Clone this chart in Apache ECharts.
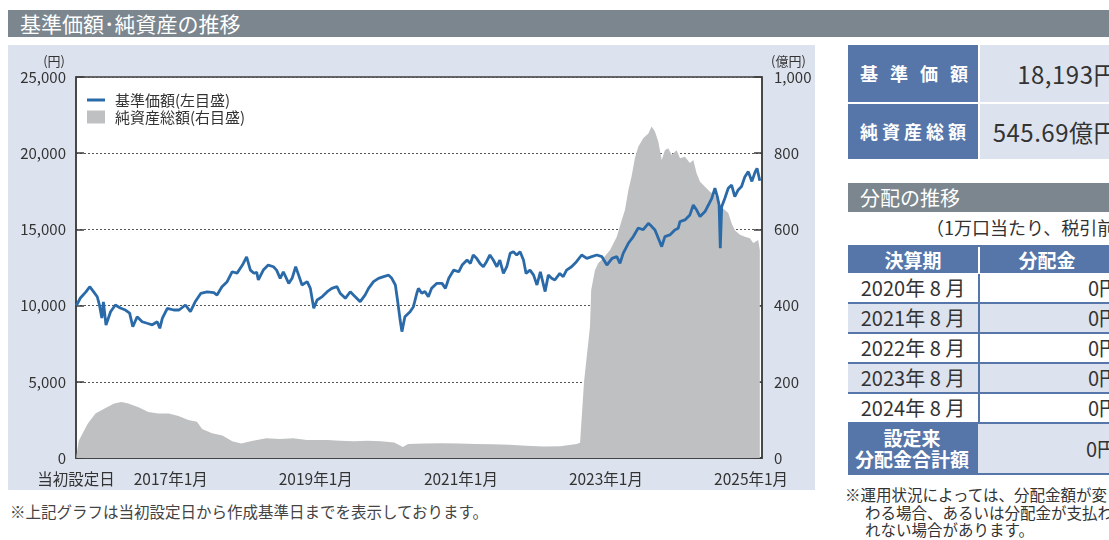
<!DOCTYPE html>
<html><head><meta charset="utf-8">
<script src="https://cdn.jsdelivr.net/npm/echarts@6/dist/echarts.min.js"></script>
<style>
html,body{margin:0;padding:0;background:#fff;width:1109px;height:540px;overflow:hidden;font-family:"Noto Sans CJK JP",sans-serif;color:#333;}
.abs{position:absolute;white-space:nowrap;}
.bar{background:#7b868e;color:#fff;font-size:20px;}
.blue{background:#5676a9;color:#fff;}
.light{background:#dde3ee;}
</style></head>
<body>
<div class="abs bar" style="left:8px;top:10px;width:1101px;height:27px;line-height:27px;padding-left:12px;box-sizing:border-box;font-size:21px;">基準価額･純資産の推移</div>
<div id="chart" class="abs" style="left:8px;top:45px;width:807px;height:445px;background:#dde3ee;"></div>
<div class="abs" style="left:10px;top:500px;font-size:15.5px;color:#444;">※上記グラフは当初設定日から作成基準日までを表示しております。</div>

<div class="abs blue" style="left:848px;top:45px;width:130px;height:57px;line-height:57px;text-align:center;font-size:18px;font-weight:bold;letter-spacing:12px;text-indent:12px;">基準価額</div>
<div class="abs light" style="left:980px;top:45px;width:150px;height:57px;line-height:57px;font-size:24px;letter-spacing:0.5px;text-align:right;padding-right:12px;box-sizing:border-box;">18,193円</div>
<div class="abs blue" style="left:848px;top:104px;width:130px;height:55px;line-height:55px;text-align:center;font-size:18px;font-weight:bold;letter-spacing:4px;text-indent:4px;">純資産総額</div>
<div class="abs light" style="left:980px;top:104px;width:150px;height:55px;line-height:55px;font-size:24px;letter-spacing:0.5px;text-align:right;padding-right:12px;box-sizing:border-box;">545.69億円</div>

<div class="abs bar" style="left:848px;top:183px;width:270px;height:29px;line-height:29px;padding-left:12px;box-sizing:border-box;">分配の推移</div>
<div class="abs" style="left:926px;top:216px;font-size:18px;line-height:22px;">（1万口当たり、税引前）</div>

<div id="dist" class="abs" style="left:848px;top:245px;width:280px;"></div>

<div class="abs" style="left:845px;top:486px;font-size:15.5px;line-height:17.5px;">※運用状況によっては、分配金額が変<br><span style="padding-left:20px">わる場合、あるいは分配金が支払わ</span><br><span style="padding-left:20px">れない場合があります。</span></div>

<script>
// ---- data ----
const navDates = ['2015-09-14','2015-10-04','2015-11-01','2015-11-20','2015-12-10','2015-12-28','2016-01-08','2016-01-20','2016-01-28','2016-02-10','2016-03-04','2016-03-28','2016-04-22','2016-05-18','2016-06-08','2016-06-24','2016-07-16','2016-08-10','2016-09-04','2016-09-30','2016-10-25','2016-11-07','2016-11-20','2016-12-15','2017-01-16','2017-02-12','2017-03-16','2017-04-10','2017-05-04','2017-06-01','2017-07-03','2017-08-06','2017-08-22','2017-09-16','2017-10-12','2017-11-06','2017-12-01','2017-12-28','2018-01-18','2018-02-06','2018-02-24','2018-03-10','2018-03-18','2018-04-12','2018-05-07','2018-06-02','2018-06-18','2018-07-06','2018-07-22','2018-08-18','2018-09-04','2018-09-22','2018-10-07','2018-10-24','2018-11-19','2018-12-05','2018-12-22','2019-01-08','2019-02-03','2019-02-28','2019-03-23','2019-04-18','2019-05-04','2019-05-30','2019-06-24','2019-07-10','2019-08-13','2019-09-07','2019-09-24','2019-10-19','2019-11-13','2019-12-09','2020-01-03','2020-01-19','2020-02-06','2020-02-19','2020-03-01','2020-03-10','2020-03-25','2020-04-20','2020-05-07','2020-05-24','2020-06-01','2020-06-18','2020-07-04','2020-07-21','2020-08-06','2020-09-02','2020-09-28','2020-10-15','2020-11-01','2020-11-26','2020-12-21','2021-01-07','2021-02-01','2021-02-18','2021-03-04','2021-03-21','2021-04-07','2021-04-24','2021-05-10','2021-05-27','2021-06-13','2021-07-01','2021-07-16','2021-08-03','2021-08-20','2021-09-06','2021-09-22','2021-10-09','2021-10-26','2021-11-12','2021-11-25','2021-12-15','2022-01-02','2022-01-19','2022-02-05','2022-03-01','2022-03-17','2022-04-03','2022-04-19','2022-05-14','2022-05-31','2022-06-17','2022-07-12','2022-08-06','2022-09-01','2022-09-27','2022-10-22','2022-11-16','2022-12-12','2023-01-06','2023-02-01','2023-02-25','2023-03-13','2023-03-29','2023-04-24','2023-05-19','2023-06-13','2023-07-08','2023-08-03','2023-08-19','2023-09-05','2023-09-22','2023-10-09','2023-10-25','2023-11-19','2023-12-14','2023-12-31','2024-01-09','2024-02-03','2024-02-28','2024-03-16','2024-04-02','2024-04-19','2024-05-14','2024-05-31','2024-06-17','2024-07-03','2024-07-15','2024-07-24','2024-07-30','2024-08-06','2024-08-22','2024-09-08','2024-09-25','2024-10-11','2024-10-28','2024-11-14','2024-12-01','2024-12-18','2025-01-05','2025-01-22','2025-01-31','2025-02-14'];
const navValues = [10000,10500,10900,11240,10900,10580,10040,9180,10250,8720,9600,10040,9840,9710,9510,8610,9270,8940,8840,8740,8940,8510,9180,9820,9710,9710,10040,9600,10250,10800,10900,10850,10690,11240,11570,12220,12130,12660,13200,12330,12120,12180,11680,12330,12660,12550,12330,11790,12220,11460,11790,12550,12000,11350,11570,11130,9820,10370,10590,10910,11130,11240,10810,10480,10910,10700,10260,10700,11130,11570,11790,11900,12000,11790,11350,10150,9050,8290,9270,9600,9930,10810,11130,10810,10920,10580,11130,11460,11460,11130,11790,12330,12220,12660,12990,12770,13320,13100,12770,12550,12880,13320,12990,12550,12990,12110,12550,13430,13540,13320,13540,12990,12110,12330,12000,11350,12220,10920,12000,11790,11680,12110,11900,12330,12550,12880,13320,13100,13210,13320,13210,12660,13100,13210,12770,13430,14090,14530,15090,14980,15400,15200,14960,14420,13870,14530,14640,14960,15070,15510,15620,15950,16600,16270,15840,16170,16600,17040,17700,17150,16600,13760,16490,17040,17700,17910,17150,17590,17810,18460,18790,18150,18790,19010,18193];

const aumDates = ['2015-09-14','2015-09-26','2015-11-10','2015-12-19','2016-02-03','2016-03-22','2016-04-28','2016-06-01','2016-07-20','2016-09-10','2016-10-31','2016-12-22','2017-02-09','2017-03-31','2017-05-13','2017-06-08','2017-07-28','2017-09-18','2017-11-07','2017-12-21','2018-02-19','2018-04-27','2018-07-04','2018-09-10','2018-11-17','2019-02-28','2019-05-04','2019-07-12','2019-09-19','2019-11-25','2020-01-31','2020-03-15','2020-04-10','2020-07-03','2020-09-27','2020-12-21','2021-03-16','2021-06-09','2021-09-01','2021-11-25','2022-02-20','2022-05-16','2022-08-07','2022-08-24','2022-09-13','2022-10-13','2022-10-19','2022-11-07','2022-11-24','2022-12-19','2023-01-22','2023-02-25','2023-03-22','2023-04-07','2023-04-24','2023-05-10','2023-05-27','2023-06-13','2023-07-08','2023-08-03','2023-08-19','2023-09-05','2023-09-22','2023-10-09','2023-10-25','2023-11-11','2023-11-28','2023-12-23','2024-01-09','2024-02-03','2024-02-28','2024-03-16','2024-04-02','2024-04-19','2024-05-14','2024-06-08','2024-07-03','2024-07-28','2024-08-22','2024-09-08','2024-09-25','2024-10-11','2024-11-06','2024-12-01','2024-12-26','2025-01-12','2025-02-06','2025-02-14'];
const aumValues = [5,45,90,117,130,143,147,143,134,121,117,117,110,100,95,76,65,59,44,38,45,52,50,52,47,47,45,44,45,44,41,29,37,38,39,38,37,36,35,32,30,31,37,40,200,345,441,493,512,524,546,581,625,651,703,738,787,817,839,852,870,857,830,782,808,813,795,808,787,791,774,782,747,725,712,699,690,660,651,643,616,598,586,581,577,564,572,546];

const xMin = '2015-09-12', xMax = '2025-02-25';
const tickDates = ['2017-01-01','2019-01-01','2021-01-01','2023-01-01','2025-01-01'];
const startLabel = '当初設定日';
const seriesNames = ['基準価額(左目盛)','純資産総額(右目盛)'];
const leftName = '(円)', rightName = '(億円)';

const distPeriods = ['2020年 8 月','2021年 8 月','2022年 8 月','2023年 8 月','2024年 8 月'];
const distValues = ['0円','0円','0円','0円','0円'];
const distTotal = '0円';

// ---- distribution table (HTML) ----
(function(){
  const el = document.getElementById('dist');
  const B = '#5676a9';
  let h = '<div style="position:relative;width:280px;border-top:2px solid '+B+';">';
  h += '<div style="display:flex;height:26px;line-height:26px;background:'+B+';color:#fff;font-weight:bold;font-size:19px;border-bottom:1px solid #fff">'
     + '<div style="width:130px;text-align:center;border-right:2px solid #fff">決算期</div><div style="width:134px;text-align:center">分配金</div></div>';
  distPeriods.forEach((p,i)=>{
    const bg = i%2===1 ? '#dde3ee' : '#fff';
    h += '<div style="display:flex;height:28px;line-height:28px;font-size:20px;background:'+bg+';border-bottom:2px solid '+B+'">'
       + '<div style="width:130px;text-align:center;border-right:2px solid '+B+';">'+p+'</div>'
       + '<div style="width:139px;text-align:right;">'+distValues[i]+'</div></div>';
  });
  h += '<div style="display:flex;height:49px;border-bottom:2px solid '+B+'">'
     + '<div style="width:130px;background:'+B+';color:#fff;font-weight:bold;font-size:19px;line-height:21px;text-align:center;padding-top:3px;box-sizing:border-box;border-right:2px solid '+B+'">設定来<br>分配金合計額</div>'
     + '<div style="width:150px;background:#dde3ee;font-size:20px;line-height:49px;text-align:right;padding-right:11px;box-sizing:border-box;">'+distTotal+'</div></div>';
  h += '</div>';
  el.innerHTML = h;
})();

// ---- chart ----
const chart = echarts.init(document.getElementById('chart'), null, {renderer:'canvas'});
const FONT = 'Noto Sans CJK JP';
const ts = d => Date.UTC(+d.slice(0,4), +d.slice(5,7)-1, +d.slice(8,10));
const minTs = ts(xMin), maxTs = ts(xMax);
const navData = navDates.map((d,i)=>[ts(d), navValues[i]]);
const aumData = aumDates.map((d,i)=>[ts(d), aumValues[i]]);
const tickTs = tickDates.map(ts);
const labelVals = [minTs].concat(tickTs);
const LINE_COLOR = '#2b6aa8', AREA_COLOR = '#bfc0c2';

chart.setOption({
  animation:false,
  textStyle:{fontFamily:FONT},
  grid:{left:68, right:53, top:32, bottom:32, show:true, backgroundColor:'#fff', borderColor:'#3c3c3c', borderWidth:1.5},
  legend:[{
    left:74, top:42, itemWidth:18, itemHeight:3, icon:'rect',
    textStyle:{fontFamily:FONT, fontSize:15, lineHeight:16, color:'#333', padding:[0,0,0,5]},
    data:[seriesNames[0]]
  },{
    left:74, top:59, itemWidth:18, itemHeight:13, icon:'rect',
    textStyle:{fontFamily:FONT, fontSize:15, lineHeight:16, color:'#333', padding:[0,0,0,5]},
    data:[seriesNames[1]]
  }],
  xAxis:{
    type:'value', min:minTs, max:maxTs, scale:true,
    axisLine:{show:true, lineStyle:{color:'#3c3c3c', width:1.5}},
    axisTick:{show:true, inside:true, length:6, customValues:tickTs, lineStyle:{color:'#3c3c3c', width:1.5}},
    axisLabel:{customValues:labelVals, fontFamily:FONT, fontSize:15.5, color:'#333', margin:13, hideOverlap:false, showMinLabel:true, showMaxLabel:true,
      formatter:function(v){ if (Math.abs(v-minTs) < 86400000*2) return startLabel; const d=new Date(v); return d.getUTCFullYear()+'年'+(d.getUTCMonth()+1)+'月'; }},
    splitLine:{show:false}
  },
  yAxis:[{
    type:'value', min:0, max:25000, interval:5000, position:'left',
    axisLine:{show:true, lineStyle:{color:'#3c3c3c', width:1.5}},
    axisTick:{show:true, inside:true, length:8, lineStyle:{color:'#3c3c3c', width:1.5}},
    axisLabel:{fontFamily:FONT, fontSize:15, color:'#333', margin:10, formatter:v=>v.toLocaleString('en-US')},
    splitLine:{show:true, lineStyle:{color:'#555', width:1, type:[2,2]}}
  },{
    type:'value', min:0, max:1000, interval:200, position:'right',
    axisLine:{show:true, lineStyle:{color:'#3c3c3c', width:1.5}},
    axisTick:{show:true, inside:true, length:8, lineStyle:{color:'#3c3c3c', width:1.5}},
    axisLabel:{fontFamily:FONT, fontSize:15, color:'#333', margin:12, formatter:v=>v.toLocaleString('en-US')},
    splitLine:{show:false}
  }],
  graphic:[
    {type:'text', right:807-57, top:10, style:{text:leftName, font:'13px "Noto Sans CJK JP"', fill:'#333', textAlign:'right'}},
    {type:'text', left:763, top:10, style:{text:rightName, font:'13px "Noto Sans CJK JP"', fill:'#333'}}
  ],
  series:[
    {name:seriesNames[1], type:'line', yAxisIndex:1, data:aumData, showSymbol:false, symbol:'none',
     itemStyle:{color:AREA_COLOR}, lineStyle:{width:0, color:AREA_COLOR}, areaStyle:{color:AREA_COLOR, opacity:1}, z:1},
    {name:seriesNames[0], type:'line', yAxisIndex:0, data:navData, showSymbol:false, symbol:'none',
     itemStyle:{color:LINE_COLOR}, lineStyle:{width:2.8, color:LINE_COLOR}, z:3}
  ]
});
</script>
</body></html>
